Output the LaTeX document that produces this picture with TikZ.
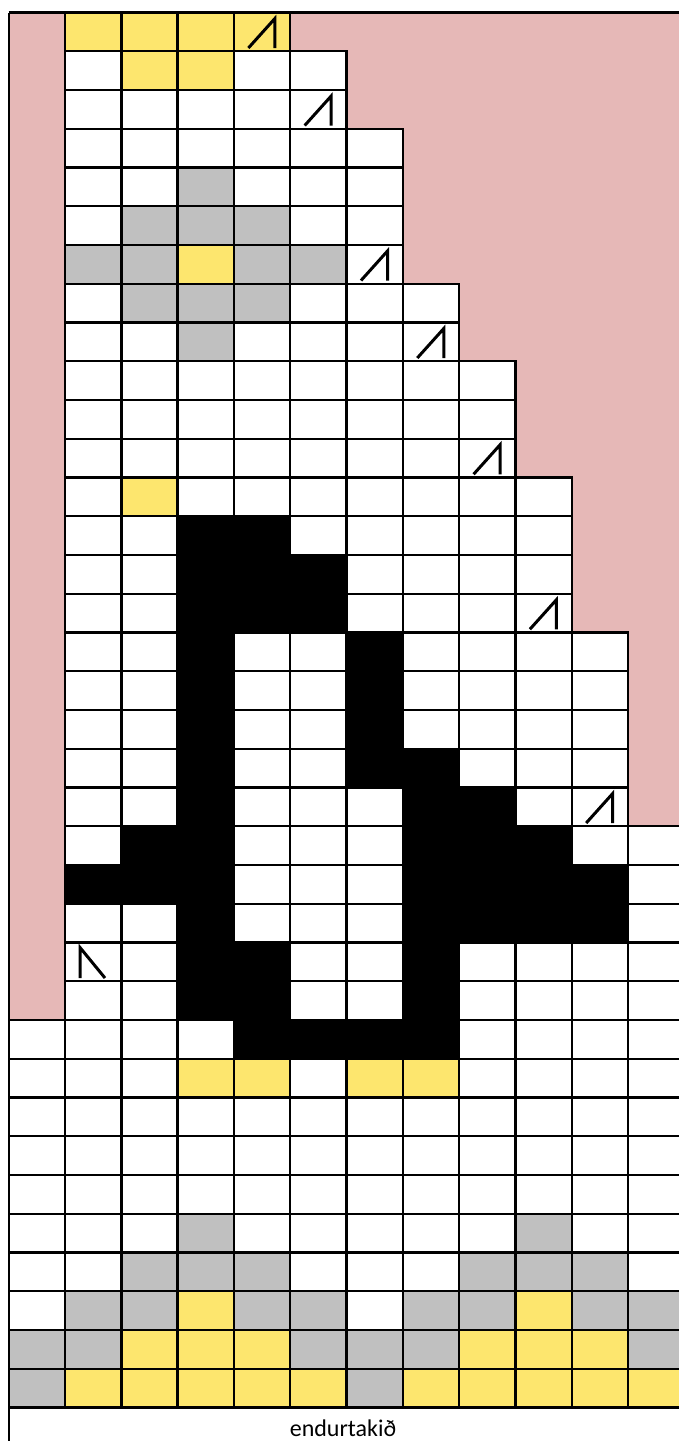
\documentclass[tikz,border=0pt]{standalone}
\usepackage{fontspec}
\setmainfont{Carlito}
\definecolor{chartpink}{HTML}{E6B8B7}
\definecolor{codey}{HTML}{FDE66E}
\definecolor{codeg}{HTML}{C0C0C0}
\colorlet{codew}{white}
\colorlet{codeb}{black}
\tikzset{
  cellbox/.style={draw=black, line width=2.4pt},
  decsym/.style={draw=black, line width=3pt, line join=miter},
}
\newcommand\chartrow[2]{%
  \foreach \c [count=\i from 0] in {#2} {%
    \if p\c\else
      \path[cellbox, fill=code\c] ({8.7+56.3*\i},{12.5+38.75*#1}) rectangle ++(56.3,38.75);
    \fi
  }%
}
\newcommand\decR[2]{%
  \path[decsym] ({8.7+56.3*#1+14.5},{12.5+38.75*#2+35.5}) -- ++(26.5,-29.5) -- ++(0,29.5);}
\newcommand\decL[2]{%
  \path[decsym] ({8.7+56.3*#1+15},{12.5+38.75*#2+35.5}) -- ++(0,-30.5) -- ++(25,30.5);}
\begin{document}
\begin{tikzpicture}[x=1pt, y=-1pt]
\useasboundingbox (0,0) rectangle (679,1441);
\clip (0,0) rectangle (679,1441);
\fill[white] (0,0) rectangle (679,1441);
\fill[chartpink] (8.7,12.5) rectangle (679,1020);
\chartrow{0}{p,y,y,y,y}
\chartrow{1}{p,w,y,y,w,w}
\chartrow{2}{p,w,w,w,w,w}
\chartrow{3}{p,w,w,w,w,w,w}
\chartrow{4}{p,w,w,g,w,w,w}
\chartrow{5}{p,w,g,g,g,w,w}
\chartrow{6}{p,g,g,y,g,g,w}
\chartrow{7}{p,w,g,g,g,w,w,w}
\chartrow{8}{p,w,w,g,w,w,w,w}
\chartrow{9}{p,w,w,w,w,w,w,w,w}
\chartrow{10}{p,w,w,w,w,w,w,w,w}
\chartrow{11}{p,w,w,w,w,w,w,w,w}
\chartrow{12}{p,w,y,w,w,w,w,w,w,w}
\chartrow{13}{p,w,w,b,b,w,w,w,w,w}
\chartrow{14}{p,w,w,b,b,b,w,w,w,w}
\chartrow{15}{p,w,w,b,b,b,w,w,w,w}
\chartrow{16}{p,w,w,b,w,w,b,w,w,w,w}
\chartrow{17}{p,w,w,b,w,w,b,w,w,w,w}
\chartrow{18}{p,w,w,b,w,w,b,w,w,w,w}
\chartrow{19}{p,w,w,b,w,w,b,b,w,w,w}
\chartrow{20}{p,w,w,b,w,w,w,b,b,w,w}
\chartrow{21}{p,w,b,b,w,w,w,b,b,b,w,w}
\chartrow{22}{p,b,b,b,w,w,w,b,b,b,b,w}
\chartrow{23}{p,w,w,b,w,w,w,b,b,b,b,w}
\chartrow{24}{p,w,w,b,b,w,w,b,w,w,w,w}
\chartrow{25}{p,w,w,b,b,w,w,b,w,w,w,w}
\chartrow{26}{w,w,w,w,b,b,b,b,w,w,w,w}
\chartrow{27}{w,w,w,y,y,w,y,y,w,w,w,w}
\chartrow{28}{w,w,w,w,w,w,w,w,w,w,w,w}
\chartrow{29}{w,w,w,w,w,w,w,w,w,w,w,w}
\chartrow{30}{w,w,w,w,w,w,w,w,w,w,w,w}
\chartrow{31}{w,w,w,g,w,w,w,w,w,g,w,w}
\chartrow{32}{w,w,g,g,g,w,w,w,g,g,g,w}
\chartrow{33}{w,g,g,y,g,g,w,g,g,y,g,g}
\chartrow{34}{g,g,y,y,y,g,g,g,y,y,y,g}
\chartrow{35}{g,y,y,y,y,y,g,y,y,y,y,y}
\decR{4}{0}
\decR{5}{2}
\decR{6}{6}
\decR{7}{8}
\decR{8}{11}
\decR{9}{15}
\decR{10}{20}
\decL{1}{24}
\draw[line width=2.4pt] (8.7,12.5) -- (679,12.5);
\draw[line width=2.4pt] (8.7,12.5) -- (8.7,1441);
\node[anchor=base, font=\fontsize{24}{26}\selectfont, inner sep=0pt] (label) at (343,1436) {endurtakið};
\end{tikzpicture}
\end{document}
